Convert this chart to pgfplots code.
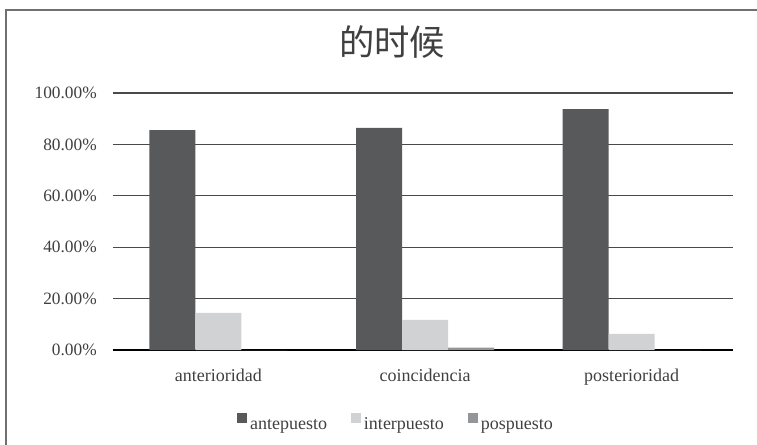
\documentclass[border=0pt]{standalone}
\usepackage{pgfplots}
\pgfplotsset{compat=1.18}
\usepackage{fontspec}
\setmainfont{Liberation Serif}
\newfontfamily\cjk{Noto Sans CJK SC}
\definecolor{ante}{HTML}{58595B}
\definecolor{inter}{HTML}{D1D2D4}
\definecolor{pos}{HTML}{939598}
\definecolor{txt}{HTML}{404040}
\definecolor{gridc}{HTML}{4A4A4A}
\definecolor{framec}{HTML}{707070}
\newcommand{\px}{0.75pt}

\begin{document}
\begin{tikzpicture}
  \begin{axis}[
    at={(0,0)}, anchor=south west,
    scale only axis, width=465pt, height=192.75pt,
    ybar=0pt, bar width=34.5pt,
    xmin=-0.51, xmax=2.49, ymin=0, ymax=100,
    xtick={0,1,2},
    xticklabels={anterioridad,coincidencia,posterioridad},
    ytick={0,20,40,60,80,100},
    yticklabels={0.00\%,20.00\%,40.00\%,60.00\%,80.00\%,100.00\%},
    axis line style={draw=none},
    major tick length=0pt,
    ymajorgrids,
    grid style={gridc, line width=0.9pt},
    extra y ticks={0},
    extra y tick labels={},
    extra y tick style={grid style={black, line width=1pt}},
    tick label style={text=txt},
    yticklabel style={anchor=east, inner sep=0pt, xshift=-12pt,
      font=\fontsize{13}{15}\selectfont},
    xticklabel style={anchor=base, inner sep=0pt, yshift=-23.6pt,
      font=\fontsize{13.5}{16}\selectfont},
    legend columns=3,
    legend style={at={(0.5,0)}, anchor=north, xshift=-21pt, yshift=-47.25pt,
      draw=none, fill=none, inner sep=0pt, nodes={inner sep=0pt},
      cells={anchor=base west},
      font=\fontsize{13.5}{16}\selectfont, text=txt,
      /tikz/every odd column/.append style={column sep=2.25pt},
      /tikz/every even column/.append style={column sep=18pt}},
    legend image code/.code={\fill[#1] (0pt,4.5pt) rectangle (7.5pt,12pt);},
  ]
    \addplot[fill=ante, draw=none] coordinates {(0,85.6) (1,86.4) (2,93.7)};
    \addlegendentry{antepuesto}
    \addplot[fill=inter, draw=none] coordinates {(0,14.4) (1,11.7) (2,6.3)};
    \addlegendentry{interpuesto}
    \addplot[fill=pos, draw=none] coordinates {(0,0) (1,0.9) (2,0)};
    \addlegendentry{pospuesto}
  \end{axis}
  \pgfresetboundingbox
  \path[use as bounding box] (-113*\px,-94*\px) rectangle (644*\px,350*\px);
  \draw[framec, line width=1pt] (-107*\px,340*\px) rectangle (660*\px,-110*\px);
  \node[text=txt, font=\cjk\fontsize{26.5}{30}\selectfont] at (279*\px,308*\px) {的时候};
\end{tikzpicture}
\end{document}
